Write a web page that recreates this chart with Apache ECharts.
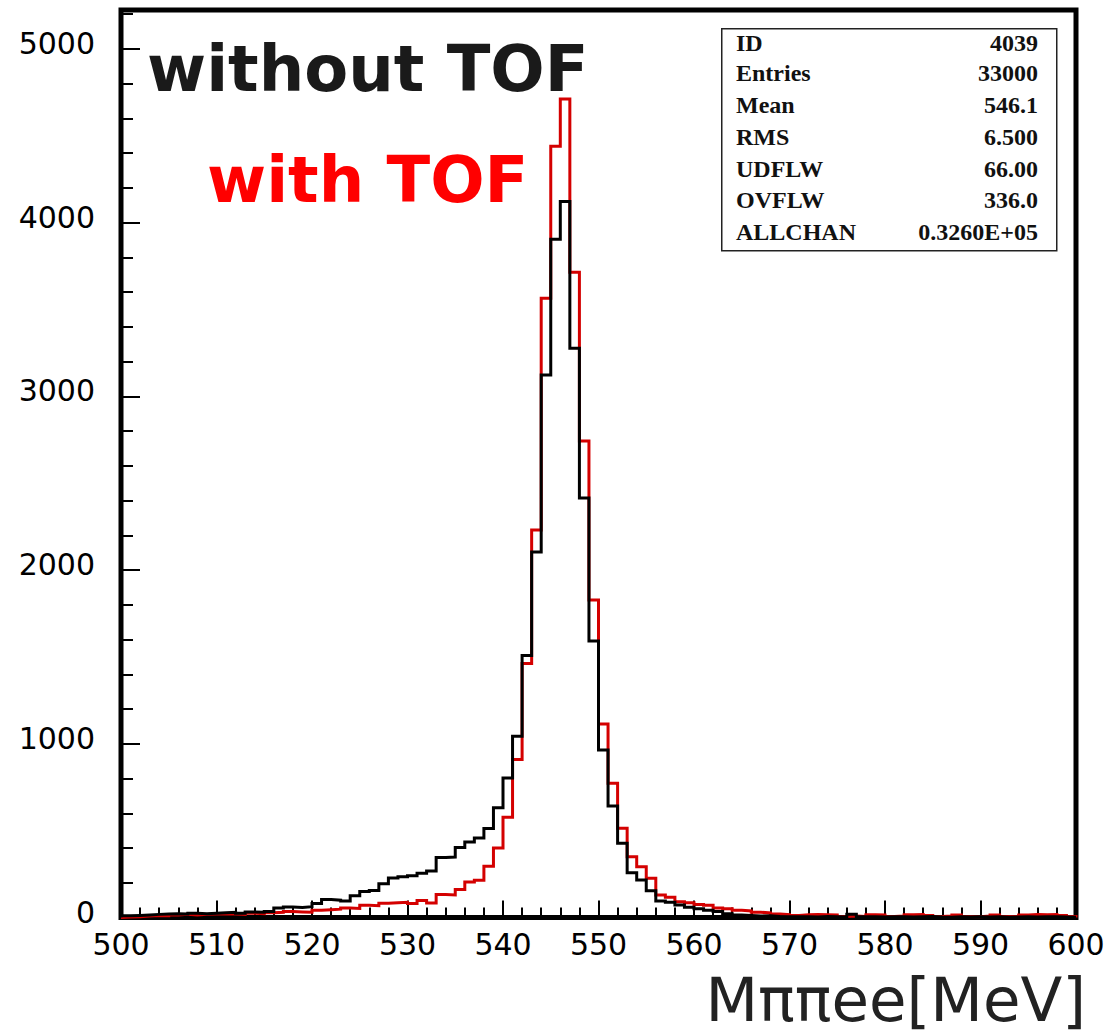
<!DOCTYPE html>
<html>
<head>
<meta charset="utf-8">
<script src="https://cdn.jsdelivr.net/npm/echarts@6/dist/echarts.min.js"></script>
<style>
  html, body { margin: 0; padding: 0; background: #fff; }
  #chart { width: 1111px; height: 1034px; }
</style>
</head>
<body>
<div id="chart"></div>
<script>
// Mππee invariant mass spectrum, 1 MeV bins from 500 to 600 MeV
const binLow = 500;
const binHigh = 600;
const binWidth = 1;

// counts per bin, without the TOF requirement
const withoutTOF = [
  10, 12, 15, 18, 20, 22, 20, 25, 22, 25,
  28, 30, 25, 32, 30, 35, 55, 60, 58, 62,
  80, 103, 100, 95, 125, 150, 155, 195, 228, 235,
  240, 255, 268, 345, 348, 403, 434, 458, 512, 632,
  803, 1043, 1508, 2104, 3123, 3904, 4121, 3277, 2415, 1592,
  964, 642, 427, 258, 216, 154, 95, 88, 72, 59,
  50, 42, 35, 22, 15, 12, 8, 10, 6, 5,
  4, 5, 3, 6, 4, 3, 18, 5, 4, 3,
  5, 4, 3, 4, 6, 3, 2, 4, 3, 5,
  3, 4, 2, 3, 4, 3, 5, 4, 3, 2
];

// counts per bin, with the TOF requirement
const withTOF = [
  3, 5, 8, 12, 10, 15, 18, 15, 18, 20,
  22, 20, 18, 25, 22, 28, 30, 35, 32, 30,
  42, 45, 48, 55, 52, 70, 68, 82, 85, 88,
  80, 98, 84, 132, 130, 161, 205, 215, 295, 400,
  577, 910, 1462, 2231, 3565, 4440, 4712, 3714, 2743, 1828,
  1114, 773, 514, 350, 292, 226, 130, 116, 91, 85,
  75, 70, 55, 50, 42, 38, 30, 26, 20, 17,
  12, 16, 17, 16, 14, 6, 8, 6, 16, 14,
  6, 8, 16, 17, 12, 6, 8, 15, 6, 5,
  8, 15, 6, 8, 15, 17, 16, 17, 12, 6
];

// statistics panel
const statNames  = ['ID', 'Entries', 'Mean', 'RMS', 'UDFLW', 'OVFLW', 'ALLCHAN'];
const statValues = ['4039', '33000', '546.1', '6.500', '66.00', '336.0', '0.3260E+05'];

const xMajor = 10;
const yMax = 5224;
const yMajor = 1000;
const yMinor = 200;

// histogram outline: one point per bin low edge, closed down to zero at both ends
function outline(values) {
  const pts = [[binLow, 0]];
  values.forEach((v, i) => pts.push([binLow + i * binWidth, v]));
  pts.push([binLow + values.length * binWidth, values[values.length - 1]]);
  pts.push([binLow + values.length * binWidth, 0]);
  return pts;
}

const chart = echarts.init(document.getElementById('chart'), null, { renderer: 'svg' });

const rowY = [45, 75, 107, 139, 171, 202, 234];
const statGraphics = [];
statNames.forEach((name, i) => {
  statGraphics.push({
    type: 'text', left: 736, top: rowY[i] - 14,
    style: { text: name, font: 'bold 24px "Liberation Serif"', fill: '#111' }
  });
  statGraphics.push({
    type: 'text', right: 1111 - 1038, top: rowY[i] - 14,
    style: { text: statValues[i], font: 'bold 24px "Liberation Serif"', fill: '#111', align: 'right' }
  });
});

chart.setOption({
  animation: false,
  backgroundColor: '#fff',
  grid: {
    left: 121, right: 35, top: 10, bottom: 116.5,
    show: true, borderColor: '#000', borderWidth: 5, backgroundColor: 'transparent'
  },
  xAxis: {
    type: 'value', min: binLow, max: binHigh, interval: xMajor,
    axisLine: { show: false },
    splitLine: { show: false },
    axisTick: { show: true, inside: true, length: 17, lineStyle: { color: '#000', width: 2 } },
    minorTick: { show: true, splitNumber: 5, length: 10, lineStyle: { color: '#000', width: 2 } },
    axisLabel: { margin: 12, fontFamily: 'DejaVu Sans', fontSize: 30, color: '#000' }
  },
  yAxis: [
    {
      type: 'value', min: 0, max: yMax, interval: yMajor, position: 'left',
      axisLine: { show: false },
      splitLine: { show: false },
      axisTick: { show: true, inside: true, length: 19, lineStyle: { color: '#000', width: 2 } },
      axisLabel: {
        margin: 26, fontFamily: 'DejaVu Sans', fontSize: 30, color: '#000',
        showMaxLabel: false, verticalAlign: 'bottom', lineHeight: 11,
        formatter: (v) => String(v)
      }
    },
    {
      type: 'value', min: 0, max: yMax, interval: yMinor, position: 'left',
      axisLine: { show: false },
      splitLine: { show: false },
      axisTick: { show: true, inside: true, length: 12, lineStyle: { color: '#000', width: 2 } },
      axisLabel: { show: false }
    }
  ],
  series: [
    {
      name: 'with TOF', type: 'line', step: 'end', yAxisIndex: 0,
      showSymbol: false, symbol: 'none',
      lineStyle: { color: '#d40000', width: 3, join: 'miter' },
      data: outline(withTOF), z: 2
    },
    {
      name: 'without TOF', type: 'line', step: 'end', yAxisIndex: 0,
      showSymbol: false, symbol: 'none',
      lineStyle: { color: '#000', width: 3, join: 'miter' },
      data: outline(withoutTOF), z: 3
    }
  ],
  graphic: [
    {
      type: 'text', left: 147, top: 37,
      style: { text: 'without TOF', font: 'bold 64px "DejaVu Sans"', fill: '#1a1a1a' }
    },
    {
      type: 'text', left: 207, top: 148,
      style: { text: 'with TOF', font: 'bold 64px "DejaVu Sans"', fill: '#ff0000' }
    },
    {
      type: 'rect', left: 721, top: 28,
      shape: { width: 335, height: 222 },
      style: { fill: '#fff', stroke: '#222', lineWidth: 1.5 }
    },
    ...statGraphics,
    {
      type: 'text', right: 1111 - 1086, top: 969,
      style: { text: 'Mππee[MeV]', font: '61px "DejaVu Sans"', fill: '#222', align: 'right', lineHeight: 58 }
    }
  ]
});
</script>
</body>
</html>
